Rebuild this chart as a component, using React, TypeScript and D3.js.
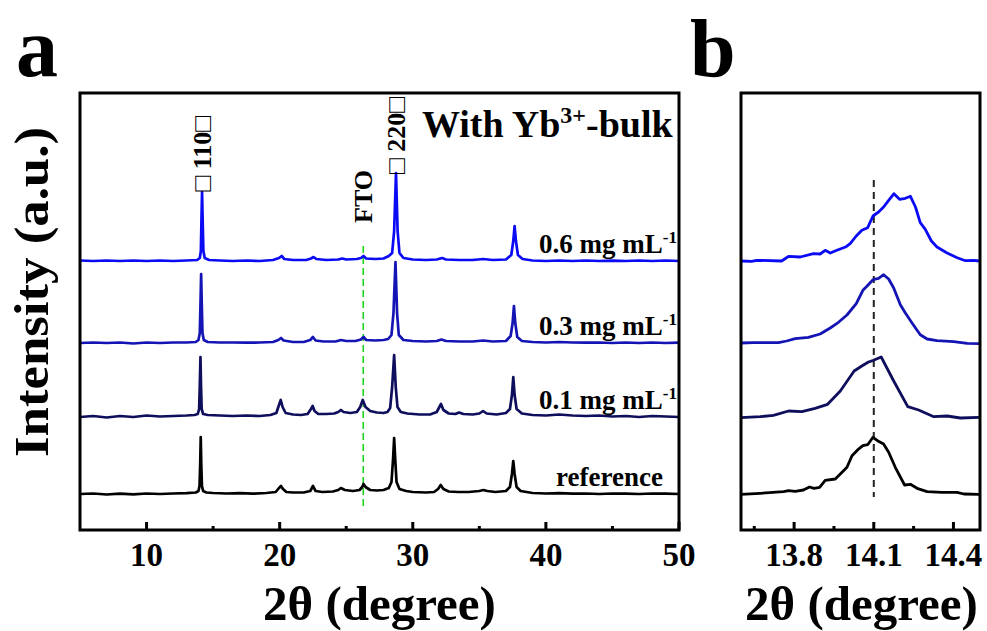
import React from "react";
import * as d3 from "d3";

// ---------- DATA ----------
// Panel a: XRD patterns, [2θ (deg), intensity above own baseline (a.u.)]
const refPattern: [number, number][] = [
  [5,0],[6,0.5],[7,-0.5],[8,0.3],[9,-0.3],[10,0.5],[11,0],[12,0.5],[13,0.8],[13.7,1.5],[13.9,3],[13.98,8],[14.03,30],[14.07,57],[14.11,30],[14.16,8],[14.25,3],[14.5,1.5],[15,1],[16,0.5],[17,0.8],[18,0.3],[19,1],[19.7,2],[19.95,6],[20.1,8],[20.25,5],[20.5,2],[21,1.5],[21.8,1.5],[22.3,3],[22.5,8],[22.7,3],[23.2,2],[24,2.5],[24.4,4],[24.6,6],[24.9,4],[25.5,3],[26.0,4],[26.2,7],[26.3,10],[26.45,7],[26.8,4],[27.3,3.5],[27.8,4],[28.2,6],[28.4,12],[28.52,35],[28.6,56],[28.68,35],[28.78,12],[29,5],[29.5,3],[30,2],[31,1.5],[31.6,2],[31.9,5],[32.1,9],[32.3,5],[32.7,2.5],[33.4,2],[34.2,2],[35,3],[35.3,4],[35.6,3],[36.2,2],[37,3],[37.3,7],[37.45,20],[37.55,33],[37.65,20],[37.8,7],[38.1,3],[39,1],[40,0.5],[41,0.8],[42,0.3],[43,0.5],[44,0],[45,0.5],[46,0.3],[47,0],[48,0.5],[49,0.3],[50,0]
];
const pattern01: [number, number][] = [
  [5,0],[6,1],[7,-0.5],[8,1],[9,0],[10,1.5],[11,0.5],[12,1],[13,1.5],[13.6,2],[13.85,3],[13.95,8],[14.0,32],[14.05,60],[14.09,32],[14.14,8],[14.25,3],[14.6,2],[15.5,1.5],[16.5,1],[17.5,1.5],[18.5,1],[19.3,2],[19.75,4],[19.95,12],[20.08,17],[20.22,10],[20.45,4],[21,2.5],[21.6,2],[22.1,3],[22.35,8],[22.48,11],[22.62,6],[22.9,3],[23.5,3],[24.1,3.5],[24.4,5],[24.6,7],[24.8,5],[25.3,4],[25.8,5],[26.05,10],[26.24,17],[26.45,10],[26.8,6],[27.3,4.5],[27.8,4],[28.1,5],[28.3,9],[28.45,30],[28.6,62],[28.72,30],[28.85,10],[29.1,5],[29.6,3.5],[30.5,2.5],[31.3,2.5],[31.8,5],[32.0,10],[32.12,13],[32.3,7],[32.7,3.5],[33.2,3],[33.48,4.5],[33.8,3],[34.5,2.5],[35.0,3.5],[35.28,6],[35.55,3.5],[36.3,2.5],[37.0,4],[37.3,8],[37.45,22],[37.55,40],[37.65,22],[37.8,8],[38.2,3.5],[39,2],[40,1.5],[41,2.5],[42,1.5],[43,1],[44,1.5],[45,0.5],[46,1],[47,0],[48,1],[49,0.5],[50,0]
];
const pattern03: [number, number][] = [
  [5,0],[6,0.5],[7,0],[8,0.5],[9,-0.5],[10,0.5],[11,0],[12,0.5],[13,0.5],[13.7,1],[13.9,3],[14.0,10],[14.05,38],[14.1,69],[14.15,38],[14.2,10],[14.3,3],[14.6,1],[15.5,0.5],[16.5,0.5],[17.5,0.3],[18.5,0.5],[19.5,1],[19.9,3],[20.1,5],[20.3,2.5],[21,1],[21.8,1],[22.3,3],[22.5,6],[22.7,2.5],[23.3,1.5],[24.2,1.5],[24.6,3],[25,2],[25.7,2],[26.1,3.5],[26.3,6],[26.5,3],[27.2,2.5],[27.8,3],[28.15,4],[28.4,8],[28.55,30],[28.7,81],[28.82,30],[28.95,8],[29.3,3],[30,2],[31,1.5],[31.8,2],[32.15,3.5],[32.5,2],[33.5,1.5],[34.5,1.5],[35.3,2.5],[36,1.5],[37,2],[37.35,7],[37.5,20],[37.6,37],[37.7,20],[37.85,6],[38.2,2],[39,1],[40,0.5],[41,1],[42,0.5],[43,0.3],[44,0.5],[45,0],[46,0.5],[47,0],[48,0.5],[49,0],[50,0.3]
];
const pattern06: [number, number][] = [
  [5,0.5],[6,0],[7,0.5],[8,0],[9,0.5],[10,0],[11,0.5],[12,0],[13,0.5],[13.8,1],[14.0,3],[14.08,10],[14.12,38],[14.17,69],[14.22,38],[14.27,10],[14.37,3],[14.7,1],[15.5,0.5],[16.5,0],[17.5,0.5],[18.5,0],[19.5,1],[19.95,3],[20.15,5],[20.35,2],[21,1],[22,1],[22.35,2.5],[22.55,4],[22.75,2],[23.5,1],[24.4,1.5],[24.7,2.5],[25,1.5],[25.8,2],[26.1,3],[26.3,5],[26.5,2.5],[27.2,2],[27.8,2.5],[28.2,5],[28.45,8],[28.6,30],[28.74,88],[28.86,30],[29.0,8],[29.3,3],[30,1.5],[31,1],[31.8,1.5],[32.2,3],[32.5,1.5],[33.5,1],[34.5,1],[35.3,2],[36,1],[37,1.5],[37.4,6],[37.55,20],[37.65,35],[37.75,20],[37.9,6],[38.25,2],[39,0.5],[40,0],[41,0.5],[42,0],[43,0.5],[44,0],[45,0.3],[46,0],[47,0.5],[48,0],[49,0.5],[50,0]
];

// Panel b: zoom on (110) peak
const zoomRef: [number, number][] = [
  [13.599,-0.3],[13.672,0.7],[13.76,2.3],[13.779,3.3],[13.804,2.7],[13.835,4],[13.858,7],[13.875,5.7],[13.896,6.7],[13.917,13.7],[13.955,15],[13.974,20],[13.999,26.7],[14.018,38.3],[14.04,44.3],[14.059,48.3],[14.077,49.3],[14.097,56.7],[14.114,53.3],[14.137,50],[14.156,41.7],[14.181,26.7],[14.216,9],[14.238,9.7],[14.263,5.7],[14.301,2.3],[14.357,1.7],[14.414,1.7],[14.439,0],[14.496,-0.3]
];
const zoom01: [number, number][] = [
  [13.599,-0.7],[13.672,0.3],[13.722,1.7],[13.779,6],[13.829,5.3],[13.879,8.7],[13.926,12.7],[13.974,26],[14.026,46],[14.055,51],[14.08,55],[14.099,56.7],[14.128,60],[14.175,36],[14.228,10.3],[14.269,7],[14.326,0.3],[14.376,1],[14.426,-1],[14.496,-0.3]
];
const zoom03: [number, number][] = [
  [13.599,0],[13.647,0.3],[13.741,0.3],[13.772,2],[13.804,4.3],[13.854,5.7],[13.898,9],[13.936,15],[13.967,20.7],[13.999,28],[14.034,39.3],[14.059,52.7],[14.074,56.7],[14.097,63.3],[14.118,64.7],[14.137,68.3],[14.156,64],[14.175,55],[14.2,38.3],[14.219,30],[14.244,20],[14.275,8.3],[14.301,4],[14.338,2.3],[14.401,1.3],[14.452,-0.3],[14.496,-0.7]
];
const zoom06: [number, number][] = [
  [13.599,0],[13.64,-0.3],[13.659,0.7],[13.753,0],[13.779,4.7],[13.823,4],[13.873,7.3],[13.898,7],[13.917,10.7],[13.936,8],[13.961,10.7],[13.996,14.3],[14.011,17.3],[14.034,25],[14.055,30.7],[14.077,33.3],[14.097,45],[14.118,49],[14.137,54],[14.156,60.7],[14.176,67.3],[14.197,61.7],[14.219,62.7],[14.238,64.7],[14.257,54],[14.275,38.3],[14.294,31.7],[14.317,20],[14.338,14],[14.376,8],[14.414,3.3],[14.445,0.3],[14.477,0.7],[14.496,0]
];

const seriesLabels = ["reference", "0.1 mg mL", "0.3 mg mL", "0.6 mg mL"];
const seriesSup = ["", "-1", "-1", "-1"];
const seriesOffsets = [0, 77, 151, 233];
const seriesColors = ["#000000", "#0e0e5c", "#1414b4", "#0a0af5"];
const patternsA = [refPattern, pattern01, pattern03, pattern06];
const patternsB = [zoomRef, zoom01, zoom03, zoom06];

const majorTicksA = [10, 20, 30, 40, 50];
const minorTicksA = [15, 25, 35, 45];
const majorTicksB = [13.8, 14.1, 14.4];
const minorTicksB = [13.65, 13.95, 14.25];

const peakLabels = [
  { text: "\u25A1 110\u25A1", pos: 14.17, top: 116 },
  { text: "\u25A1 220\u25A1", pos: 28.74, top: 97 },
];
const ftoPos = 26.28;
const zoomRefLine = 14.1;

// ---------- LAYOUT ----------
const W = 987, H = 631;
const A = { l: 80, r: 679, t: 93, b: 530 };
const B = { l: 741, r: 980, t: 93, b: 530 };
const FONT = "'Liberation Serif', 'Times New Roman', serif";

export default function App() {
  const xA = d3.scaleLinear().domain([5, 50]).range([A.l, A.r]);
  const xB = d3.scaleLinear().domain([13.6, 14.5]).range([B.l, B.r]);
  const y = d3.scaleLinear().domain([-36, 401]).range([A.b, A.t]);

  const lineA = (pts: [number, number][], off: number) =>
    d3.line<[number, number]>().x((d) => xA(d[0])).y((d) => y(d[1] + off))(pts) || "";
  const lineB = (pts: [number, number][], off: number) =>
    d3.line<[number, number]>().x((d) => xB(d[0])).y((d) => y(d[1] + off))(pts) || "";

  const tick = (x: number, len: number, key: string) => (
    <line key={key} x1={x} x2={x} y1={A.b} y2={A.b - len} stroke="#000" strokeWidth={3} />
  );

  return (
    <svg width={W} height={H} style={{ position: "absolute", left: 0, top: 0, background: "#fff" }}
      fontFamily={FONT} fontWeight="bold">
      <defs>
        <clipPath id="clipA"><rect x={A.l} y={A.t} width={A.r - A.l} height={A.b - A.t} /></clipPath>
        <clipPath id="clipB"><rect x={B.l} y={B.t} width={B.r - B.l} height={B.b - B.t} /></clipPath>
      </defs>

      {/* panel letters */}
      <text x={16} y={76} fontSize={84}>a</text>
      <text x={690} y={76} fontSize={82}>b</text>

      {/* ---------- Panel a ---------- */}
      <g clipPath="url(#clipA)">
        <line x1={xA(ftoPos)} x2={xA(ftoPos)} y1={246} y2={507} stroke="#1fd21f" strokeWidth={1.6} strokeDasharray="7,4" />
        {patternsA.map((p, i) => (
          <path key={i} d={lineA(p, seriesOffsets[i])} fill="none" stroke={seriesColors[i]} strokeWidth={2.7} strokeLinejoin="round" />
        ))}
      </g>
      <rect x={A.l} y={A.t} width={A.r - A.l} height={A.b - A.t} fill="none" stroke="#000" strokeWidth={3} />
      {majorTicksA.map((t) => tick(xA(t), 8, "M" + t))}
      {minorTicksA.map((t) => tick(xA(t), 4, "m" + t))}
      {majorTicksA.map((t) => (
        <text key={"lA" + t} x={xA(t)} y={566} fontSize={33} textAnchor="middle">{t}</text>
      ))}
      <text x={(A.l + A.r) / 2} y={620} fontSize={49} textAnchor="middle">2θ (degree)</text>
      <text transform={`translate(48, 292) rotate(-90) scale(1.1, 1)`} fontSize={48} textAnchor="middle">Intensity (a.u.)</text>

      {/* series labels */}
      {seriesLabels.map((s, i) => (
        <text key={"sl" + i} x={i === 0 ? 663 : 677} y={y(seriesOffsets[i]) - 8} fontSize={27} textAnchor="end">
          {s}
          {seriesSup[i] && <tspan dy={-10} fontSize={17}>{seriesSup[i]}</tspan>}
        </text>
      ))}

      {/* peak labels */}
      {peakLabels.map((p) => (
        <text key={p.text} transform={`translate(${xA(p.pos) + 9}, ${p.top}) rotate(-90)`} fontSize={26} textAnchor="end" fill="#000">
          {p.text}
        </text>
      ))}
      <text transform={`translate(${xA(ftoPos) + 9}, 223) rotate(-90)`} fontSize={26}>FTO</text>
      <text x={422} y={137} fontSize={38}>
        With Yb<tspan dy={-14} fontSize={24}>3+</tspan><tspan dy={14}>-bulk</tspan>
      </text>

      {/* ---------- Panel b ---------- */}
      <g clipPath="url(#clipB)">
        <line x1={xB(zoomRefLine)} x2={xB(zoomRefLine)} y1={180} y2={497} stroke="#222" strokeWidth={2} strokeDasharray="7,5" />
        {patternsB.map((p, i) => (
          <path key={i} d={lineB(p, seriesOffsets[i])} fill="none" stroke={seriesColors[i]} strokeWidth={2.8} strokeLinejoin="round" />
        ))}
      </g>
      <rect x={B.l} y={B.t} width={B.r - B.l} height={B.b - B.t} fill="none" stroke="#000" strokeWidth={3} />
      {majorTicksB.map((t) => (
        <line key={"MB" + t} x1={xB(t)} x2={xB(t)} y1={B.b} y2={B.b - 8} stroke="#000" strokeWidth={3} />
      ))}
      {minorTicksB.map((t) => (
        <line key={"mB" + t} x1={xB(t)} x2={xB(t)} y1={B.b} y2={B.b - 4} stroke="#000" strokeWidth={3} />
      ))}
      {majorTicksB.map((t) => (
        <text key={"lB" + t} x={xB(t)} y={566} fontSize={33} textAnchor="middle">{t.toFixed(1)}</text>
      ))}
      <text x={(B.l + B.r) / 2 + 1} y={620} fontSize={49} textAnchor="middle">2θ (degree)</text>
    </svg>
  );
}
